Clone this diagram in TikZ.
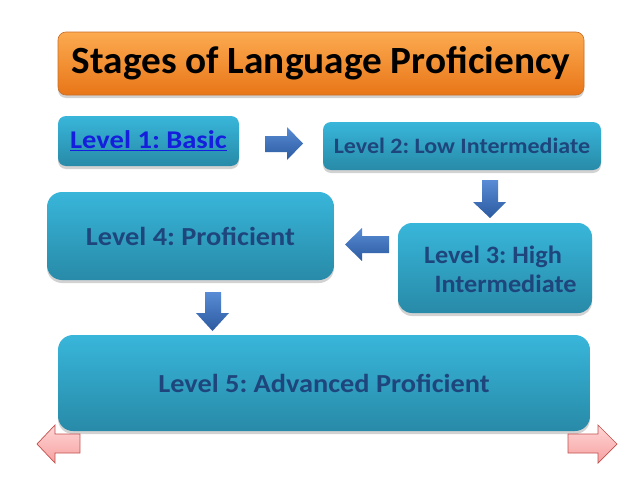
\documentclass[tikz,border=0pt]{standalone}
\usepackage{fontspec}
\usepackage{graphicx}
\setmainfont{Carlito}
\frenchspacing
\usetikzlibrary{shadows}
\definecolor{boxtop}{RGB}{56,182,218}
\definecolor{boxbot}{RGB}{40,138,168}
\definecolor{orgtop}{RGB}{252,170,80}
\definecolor{orgbot}{RGB}{232,118,24}
\definecolor{orgline}{RGB}{200,110,40}
\definecolor{navy}{RGB}{30,70,125}
\definecolor{linkblue}{RGB}{20,30,220}
\definecolor{arrtop}{RGB}{88,140,212}
\definecolor{arrbot}{RGB}{44,90,160}
\definecolor{pinktop}{RGB}{255,214,214}
\definecolor{pinkbot}{RGB}{246,160,160}
\definecolor{pinkline}{RGB}{192,80,77}
\newcommand\hstretch[2]{\scalebox{#1}[1]{#2}}
\begin{document}
\begin{tikzpicture}[x=1pt,y=-1pt,
  lvbox/.style={rounded corners=#1, inner sep=0pt, top color=boxtop, bottom color=boxbot,
    draw=none, text=navy, font=\bfseries,
    drop shadow={opacity=0.35, shadow xshift=0pt, shadow yshift=-3pt}},
  titlebox/.style={rounded corners=8pt, inner sep=0pt, top color=orgtop, bottom color=orgbot,
    draw=orgline, line width=0.6pt,
    drop shadow={opacity=0.35, shadow xshift=0pt, shadow yshift=-3pt}},
  bluearrow/.style={top color=arrtop, bottom color=arrbot, draw=none},
  pinkarrow/.style={top color=pinktop, bottom color=pinkbot, draw=pinkline, line width=0.7pt, line join=miter}
]
\useasboundingbox (0,0) rectangle (638,479);
\fill[white] (0,0) rectangle (638,479);

% title
\node[titlebox, minimum width=526pt, minimum height=63pt] (title) at (321,63.5)
  {\fontsize{38.5}{44}\selectfont\bfseries\hstretch{1.02}{Stages of Language Proficiency}};

% level boxes
\node[lvbox=8pt, minimum width=181pt, minimum height=50pt] (l1) at (148.5,141)
  {\fontsize{25.5}{30}\selectfont\color{linkblue}\hstretch{1.12}{\underline{Level 1: Basic}}};
\node[lvbox=8pt, minimum width=278pt, minimum height=48pt] (l2) at (462,146)
  {\fontsize{22}{26}\selectfont\hstretch{1.09}{Level 2: Low Intermediate}};
\node[lvbox=15pt, minimum width=287pt, minimum height=88pt] (l4) at (190.5,236)
  {\fontsize{26}{30}\selectfont\hstretch{1.09}{Level 4: Proficient}};
\node[lvbox=14pt, minimum width=194pt, minimum height=90pt] (l3) at (495,268)
  {\fontsize{25}{29}\selectfont\raisebox{-4pt}[\height][\depth]{\hstretch{1.05}{\begin{tabular}{@{}l@{}}Level 3: High\\\hspace*{10pt}Intermediate\end{tabular}\hspace*{-10pt}}}};
\node[lvbox=15pt, minimum width=532pt, minimum height=96pt] (l5) at (324,383)
  {\fontsize{26}{30}\selectfont\hstretch{1.09}{Level 5: Advanced Proficient}};

% blue block arrows
\path[bluearrow] (265,136) -- (287,136) -- (287,127) -- (303,143.5) -- (287,160) -- (287,152) -- (265,152) -- cycle;
\path[bluearrow] (482,180) -- (498,180) -- (498,202) -- (506,202) -- (490,218) -- (473,202) -- (482,202) -- cycle;
\path[bluearrow] (389,236) -- (362,236) -- (362,228) -- (345,244.5) -- (362,261) -- (362,253) -- (389,253) -- cycle;
\path[bluearrow] (205,292) -- (221,292) -- (221,313) -- (229,313) -- (212.5,331) -- (196,313) -- (205,313) -- cycle;

% pink block arrows
\path[pinkarrow] (80,434) -- (55,434) -- (55,425) -- (37,444) -- (55,463) -- (55,453) -- (80,453) -- cycle;
\path[pinkarrow] (568,434) -- (598,434) -- (598,425) -- (617,444) -- (598,463) -- (598,453) -- (568,453) -- cycle;
\end{tikzpicture}
\end{document}
